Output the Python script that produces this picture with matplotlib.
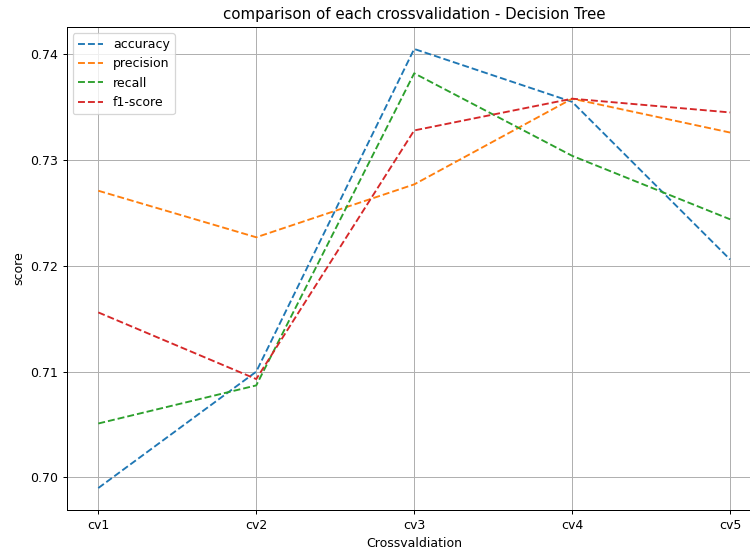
import matplotlib
matplotlib.use('Agg')
import matplotlib.pyplot as plt

folds = ['cv1', 'cv2', 'cv3', 'cv4', 'cv5']
accuracy = [0.6990, 0.7100, 0.7405, 0.7355, 0.7206]
precision = [0.7271, 0.7227, 0.7277, 0.7358, 0.7326]
recall = [0.7051, 0.7087, 0.7382, 0.7304, 0.7244]
f1_score = [0.7156, 0.7093, 0.7328, 0.7358, 0.7345]

# render at 90 dpi so text and lines come out a bit smaller, like the original
fig = plt.figure(figsize=(750/90, 550/90), dpi=90)
# axes run a bit past the right edge, as in the original
ax = fig.add_axes([66.7/750, 40/550, 695/750, 483/550])

ax.plot(folds, accuracy, '--', label='accuracy')
ax.plot(folds, precision, '--', label='precision')
ax.plot(folds, recall, '--', label='recall')
ax.plot(folds, f1_score, '--', label='f1-score')

ax.set_title('comparison of each crossvalidation - Decision Tree')
ax.set_xlabel('Crossvaldiation')
ax.set_ylabel('score')
ax.grid(True)
ax.legend(loc='upper left')

fig.savefig('out.png', dpi=90)
plt.close()
